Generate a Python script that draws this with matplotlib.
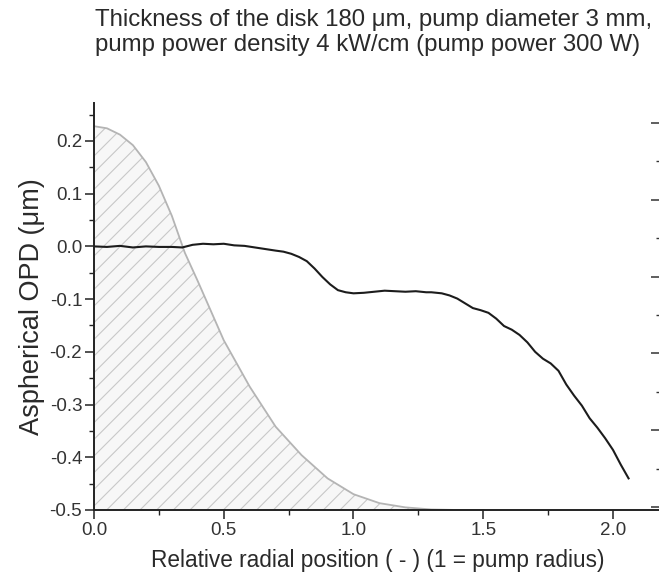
import numpy as np
import matplotlib
matplotlib.use("Agg")
import matplotlib.pyplot as plt

plt.rcParams['font.family'] = ['Liberation Sans', 'DejaVu Sans']
plt.rcParams['hatch.linewidth'] = 0.8

# pump profile (gray, hatched)
pump_x = [0.00, 0.05, 0.10, 0.15, 0.20, 0.25, 0.30, 0.35, 0.40, 0.45, 0.50,
          0.60, 0.70, 0.80, 0.90, 1.00, 1.10, 1.20, 1.30, 1.40, 1.50]
pump_y = [0.228, 0.224, 0.212, 0.192, 0.160, 0.115, 0.058, -0.012, -0.066, -0.122, -0.178,
          -0.266, -0.342, -0.396, -0.440, -0.470, -0.487, -0.495, -0.499, -0.500, -0.500]

# measured aspherical OPD (black)
opd_x = [0.00, 0.05, 0.10, 0.15, 0.20, 0.25, 0.30, 0.34, 0.38, 0.42, 0.46, 0.50,
         0.54, 0.58, 0.62, 0.66, 0.70, 0.73, 0.76, 0.79, 0.82, 0.85, 0.88, 0.91,
         0.94, 0.97, 1.00, 1.04, 1.08, 1.12, 1.16, 1.20, 1.24, 1.28, 1.30, 1.34,
         1.37, 1.40, 1.43, 1.46, 1.49, 1.52, 1.55, 1.58, 1.61, 1.64, 1.67, 1.70,
         1.73, 1.76, 1.79, 1.82, 1.85, 1.88, 1.91, 1.94, 1.97, 2.00, 2.03, 2.06]
opd_y = [0.000, -0.001, 0.001, -0.002, 0.000, -0.001, -0.001, -0.002, 0.003, 0.005, 0.004, 0.005,
         0.002, 0.001, -0.002, -0.005, -0.008, -0.010, -0.014, -0.020, -0.028, -0.042, -0.058, -0.072,
         -0.083, -0.087, -0.089, -0.088, -0.086, -0.084, -0.085, -0.086, -0.085, -0.087, -0.087, -0.089,
         -0.093, -0.099, -0.108, -0.117, -0.121, -0.126, -0.137, -0.151, -0.158, -0.168, -0.182, -0.200,
         -0.213, -0.222, -0.236, -0.262, -0.283, -0.302, -0.326, -0.344, -0.364, -0.386, -0.414, -0.440]

x_ticks = [0.0, 0.5, 1.0, 1.5, 2.0]
y_ticks = [0.2, 0.1, 0.0, -0.1, -0.2, -0.3, -0.4, -0.5]

fig = plt.figure(figsize=(6.59, 5.78), dpi=100)
ax = fig.add_axes([94 / 659, 68 / 578, 567 / 659, 407 / 578])

ax.fill_between(pump_x, pump_y, -0.5, facecolor='#f7f7f7', edgecolor='#c8c8c8',
                hatch='//', linewidth=0)
ax.plot(pump_x, pump_y, color='#b4b4b4', lw=1.3)
ax.plot(opd_x, opd_y, color='#1c1c1c', lw=1.5)

ax.set_xlim(0, 2.185)
ax.set_ylim(-0.5, 0.272)
ax.set_xticks(x_ticks)
ax.set_yticks(y_ticks)
ax.set_xticks(np.arange(0.25, 2.2, 0.5), minor=True)
ax.set_yticks(np.arange(-0.45, 0.27, 0.1), minor=True)
ax.xaxis.set_major_formatter(plt.FuncFormatter(lambda v, p: f'{v:.1f}'))
ax.yaxis.set_major_formatter(plt.FuncFormatter(lambda v, p: f'{v:.1f}'))

for s in ['top', 'right']:
    ax.spines[s].set_visible(False)
for s in ['left', 'bottom']:
    ax.spines[s].set_linewidth(1.4)
    ax.spines[s].set_color('#222222')
ax.tick_params(which='major', direction='out', length=6.5, width=1.1, color='#222222',
               labelsize=13.5, labelcolor='#333333', pad=2)
ax.tick_params(which='minor', direction='out', length=3.5, width=1.0, color='#222222')

ax.set_xlabel('Relative radial position ( - ) (1 = pump radius)', fontsize=16.3,
              color='#2a2a2a', labelpad=7)
ax.set_ylabel('Aspherical OPD (μm)', fontsize=19.5, color='#2a2a2a', labelpad=3)

# second scale on the right edge (ticks only)
ax2 = ax.twinx()
ax2.set_ylim(-0.036, 5.256)
ax2.set_yticks([0, 1, 2, 3, 4, 5])
ax2.set_yticks(np.arange(0.5, 5.2, 1.0), minor=True)
ax2.tick_params(which='major', direction='in', length=7, width=1.1, color='#333333',
                labelright=False)
ax2.tick_params(which='minor', direction='in', length=3.5, width=1.0, color='#333333')
for s in ax2.spines.values():
    s.set_visible(False)

fig.text(95 / 659, 1 - 9 / 578,
         'Thickness of the disk 180 μm, pump diameter 3 mm,\n'
         'pump power density 4 kW/cm (pump power 300 W)',
         ha='left', va='top', fontsize=17.3, color='#2a2a2a', linespacing=1.2)

fig.savefig('out.png', dpi=100)
